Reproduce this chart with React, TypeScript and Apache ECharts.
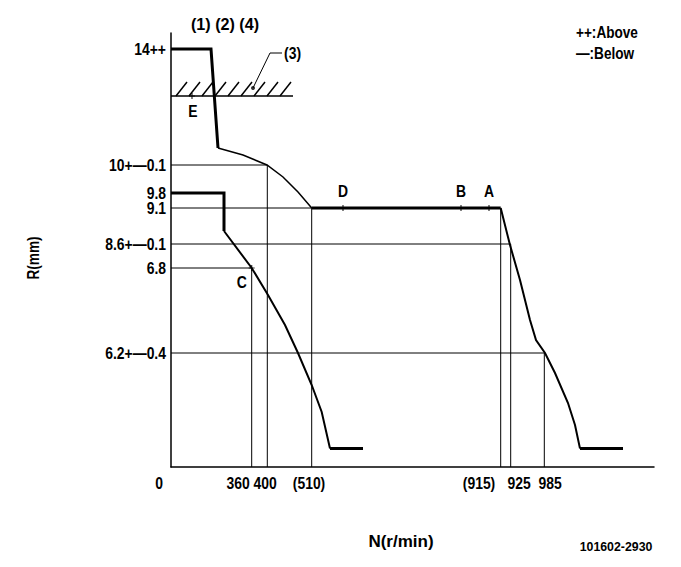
import React, { useEffect, useRef } from "react";
import * as echarts from "echarts";

const FONT = "'Liberation Sans', Arial, sans-serif";

// R (mm) labels and their schematic heights on the drawing
const rLabels = ["14++", "10+—0.1", "9.8", "9.1", "8.6+—0.1", "6.8", "6.2+—0.4"];
const rLevels = [418, 302, 274, 259, 223, 199, 114];

// N (r/min) labels and their schematic positions
const nLabels = ["0", "360", "400", "(510)", "(915)", "925", "985"];
const nLabelPos = [-12, 67, 94, 138, 308, 348, 379];

// vertical guide lines (schematic N position, top height)
const nGuidePos = [80.7, 96.3, 140.7, 329.7, 339.7, 373.3];
const nGuideTop = [199, 302, 259, 259, 223, 114];
// horizontal guide lines (schematic R level, right end)
const rGuideLevels = [302, 259, 223, 199, 114];
const rGuideEnd = [96.3, 140.7, 339.7, 80.7, 373.3];

// upper characteristic
const upperStepN = [0, 40, 47];
const upperStepR = [418, 418, 319];
const upperArcN = [47, 72, 96, 112, 127, 140.7];
const upperArcR = [319, 312, 302, 290, 275, 259];
const ratedN = [140.7, 329.7];
const ratedR = [259, 259];
const droopN = [329.7, 339, 349, 359, 365, 374, 384, 397, 404, 409];
const droopR = [259, 222, 187, 147, 127, 114, 94, 64, 42, 18.5];
const droopEndN = [409, 452];
const droopEndR = [18.5, 18.5];

// lower characteristic
const lowerStepN = [0, 53, 53];
const lowerStepR = [274, 274, 236];
const lowerCurveN = [53, 80.7, 97, 114, 127, 140.7, 150.7, 159];
const lowerCurveR = [236, 199, 172, 142, 114, 82, 55, 18.5];
const lowerEndN = [159, 192];
const lowerEndR = [18.5, 18.5];

// limit line (3) with hatching
const limitN = [0, 122];
const limitR = [371, 371];
const hatchStartN = [5, 18, 31, 44, 57, 70, 83, 96, 109];
const leaderN = [82, 99, 111];
const leaderR = [379, 414, 414];
const leaderText = "(3)";

// named points
const pointNames = ["A", "B", "C", "D", "E"];
const pointN = [318, 290, 80.7, 172, 21];
const pointR = [259, 259, 199, 259, 371];
const pointLabelOffset: [number, number][] = [
  [0, -17],
  [0, -17],
  [-10, 14],
  [0, -17],
  [1, 15],
];

const PLUS = "path://M4,0 L6,0 L6,4 L10,4 L10,6 L6,6 L6,10 L4,10 L4,6 L0,6 L0,4 L4,4 Z";

function poly(ns: number[], rs: number[], width: number) {
  return {
    type: "line",
    data: ns.map((n, i) => [n, rs[i]]),
    symbol: "none",
    silent: true,
    clip: false,
    lineStyle: { color: "#000", width, cap: "butt", join: "miter" },
    z: 3,
  };
}

function txt(
  text: string,
  x: number,
  y: number,
  size: number,
  align: "left" | "center" | "right",
  scaleX = 0.88,
  rotation = 0
) {
  return {
    type: "text",
    x,
    y,
    scaleX,
    rotation,
    silent: true,
    z: 10,
    style: {
      text,
      fontFamily: FONT,
      fontWeight: "bold",
      fontSize: size,
      fill: "#000",
      align,
      verticalAlign: "middle",
    },
  };
}

export default function App() {
  const ref = useRef<HTMLDivElement>(null);
  useEffect(() => {
    if (!ref.current) return;
    const chart = echarts.init(ref.current, undefined, { renderer: "svg" });

    const series: any[] = [];
    nGuidePos.forEach((n, i) => series.push(poly([n, n], [0, nGuideTop[i]], 1)));
    rGuideLevels.forEach((r, i) => series.push(poly([0, rGuideEnd[i]], [r, r], 1)));
    series.push(poly(upperStepN, upperStepR, 3));
    series.push(poly(upperArcN, upperArcR, 1.5));
    series.push(poly(ratedN, ratedR, 3));
    series.push(poly(droopN, droopR, 2));
    series.push(poly(droopEndN, droopEndR, 3));
    series.push(poly(lowerStepN, lowerStepR, 3));
    series.push(poly(lowerCurveN, lowerCurveR, 2));
    series.push(poly(lowerEndN, lowerEndR, 3));
    series.push(poly(limitN, limitR, 1.5));
    hatchStartN.forEach((n) => series.push(poly([n, n + 11], [371, 385], 1.5)));
    series.push(poly(leaderN, leaderR, 1));
    series.push({
      type: "scatter",
      clip: false,
      silent: true,
      symbol: "circle",
      symbolSize: 4,
      itemStyle: { color: "#000" },
      data: [[leaderN[0], leaderR[0]]],
    });
    series.push({
      type: "scatter",
      clip: false,
      silent: true,
      symbol: PLUS,
      symbolSize: 6,
      itemStyle: { color: "#000" },
      z: 5,
      data: pointN.map((n, i) => [n, pointR[i]]),
    });

    chart.setOption({
      animation: false,
      backgroundColor: "#fff",
      grid: { left: 171, right: 27, top: 33, bottom: 100 },
      xAxis: {
        type: "value",
        min: 0,
        max: 483,
        axisLine: { show: true, lineStyle: { color: "#000", width: 1.5 } },
        axisTick: { show: false },
        axisLabel: { show: false },
        splitLine: { show: false },
      },
      yAxis: {
        type: "value",
        min: 0,
        max: 434,
        axisLine: { show: true, lineStyle: { color: "#000", width: 1.5 } },
        axisTick: { show: false },
        axisLabel: { show: false },
        splitLine: { show: false },
      },
      series,
    });

    const px = (n: number, r: number) =>
      chart.convertToPixel({ gridIndex: 0 }, [n, r]) as number[];

    const graphic: any[] = [];
    rLabels.forEach((t, i) => {
      const p = px(0, rLevels[i]);
      graphic.push(txt(t, p[0] - 5, p[1], 17, "right", 0.82));
    });
    nLabels.forEach((t, i) => {
      const p = px(nLabelPos[i], 0);
      graphic.push(txt(t, p[0], p[1] + 16, 17, "center", 0.82));
    });
    pointNames.forEach((t, i) => {
      const p = px(pointN[i], pointR[i]);
      graphic.push(
        txt(t, p[0] + pointLabelOffset[i][0], p[1] + pointLabelOffset[i][1], 17, "center", 0.82)
      );
    });
    {
      const p = px(leaderN[2], leaderR[2]);
      graphic.push(txt(leaderText, p[0] + 2, p[1], 17, "left", 0.82));
    }
    graphic.push(txt("(1) (2) (4)", 225, 24, 17, "center", 0.95));
    graphic.push(txt("++:Above", 576, 33, 16, "left", 0.85));
    graphic.push(txt("—:Below", 576, 54, 16, "left", 0.85));
    graphic.push(txt("R(mm)", 34, 258, 16, "center", 0.85, Math.PI / 2));
    graphic.push(txt("N(r/min)", 401, 541, 17, "center", 1));
    graphic.push(txt("101602-2930", 616, 547, 13, "center", 0.95));

    chart.setOption({ graphic });
    return () => chart.dispose();
  }, []);
  return (
    <div
      ref={ref}
      style={{ position: "fixed", left: 0, top: 0, width: 681, height: 567, background: "#fff" }}
    />
  );
}
